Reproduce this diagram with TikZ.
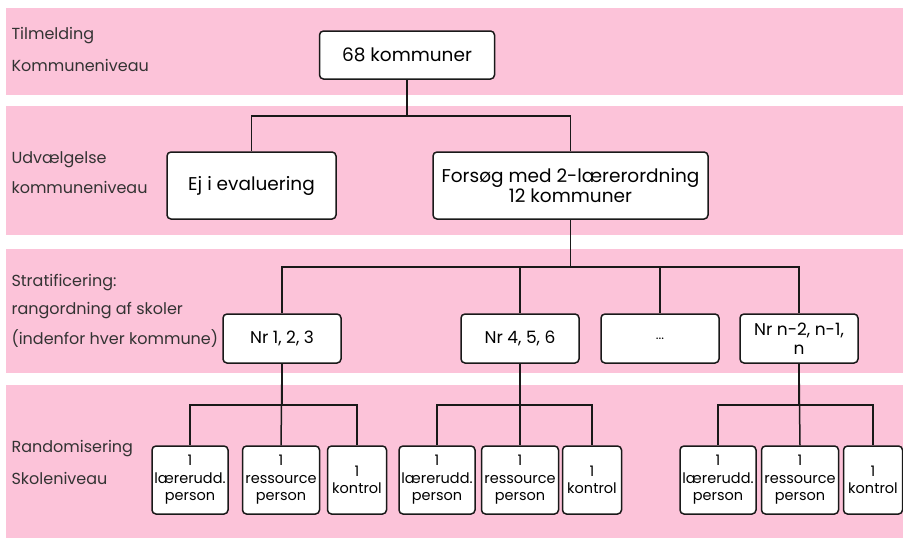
\documentclass[tikz,border=0pt]{standalone}
\usepackage{fontspec}
\setmainfont{Poppins}
\usepackage{tikz}
\usetikzlibrary{positioning}
\definecolor{bandpink}{RGB}{252,195,217}

\begin{document}
\begin{tikzpicture}[x=1pt,y=-1pt,
  box/.style={draw=black!90,line width=1.5pt,fill=white,rounded corners=4pt,
              align=center,inner sep=1pt,font=\fontsize{18.5}{20.5}\selectfont},
  midbox/.style={box,minimum width=118pt,minimum height=49pt,font=\fontsize{17}{19}\selectfont},
  smallbox/.style={box,minimum height=68pt,font=\fontsize{14.5}{17.5}\selectfont},
  link/.style={draw=black!90,line width=1.5pt},
  lvl/.style={anchor=west,font=\fontsize{16}{19}\selectfont,text=black!80}]
  \useasboundingbox (0,0) rectangle (903,538);

  % Baender
  \fill[bandpink] (6,8) rectangle (903,95);
  \fill[bandpink] (6,106) rectangle (903,235);
  \fill[bandpink] (6,249) rectangle (903,373);
  \fill[bandpink] (6,385) rectangle (903,538);

  % Niveauer
  \node[lvl] (t1) at (8,36) {Tilmelding};
  \node[lvl] (t2) at (8,65) {Kommuneniveau};
  \node[lvl] (u1) at (8,160) {Udvælgelse};
  \node[lvl] (u2) at (8,187) {kommuneniveau};
  \node[lvl] (s1) at (8,283) {Stratificering:};
  \node[lvl] (s2) at (8,311) {rangordning af skoler};
  \node[lvl] (s3) at (8,339) {(indenfor hver kommune)};
  \node[lvl] (r1) at (8,449) {Randomisering};
  \node[lvl] (r2) at (8,478) {Skoleniveau};

  % Kommuner
  \node[box,minimum width=175pt,minimum height=48pt] (k68) at (407,55) {68 kommuner};
  \node[box,minimum width=169pt,minimum height=67pt] (ej) at (251.5,185.5) {Ej i evaluering};
  \node[box,minimum width=275pt,minimum height=67pt] (forsog) at (570.5,185.5)
       {Forsøg med 2-lærerordning\\12 kommuner};
  \draw[link] (k68.south) -- ++(0,36) -| (ej.north);
  \draw[link] (k68.south) -- ++(0,36) -| (forsog.north);

  % Skoler
  \foreach \n/\x/\t in {n1/282/{Nr 1, 2, 3}, n4/520/{Nr 4, 5, 6},
                        nd/660/{\fontsize{13}{15}\selectfont ...}, nn/799/{Nr n-2, n-1,\\n}}{
    \node[midbox] (\n) at (\x,338.5) {\t};
    \draw[link] (forsog.south) -- ++(0,47) -| (\n.north);
  }

  % Randomisering
  \foreach \n/\p/\xa/\xb/\xc in {a/n1/190/281/357, b/n4/437/520/592, c/nn/718/800/873}{
    \node[smallbox,minimum width=76pt] (\n1) at (\xa,480) {1\\lærerudd.\\person};
    \node[smallbox,minimum width=77pt] (\n2) at (\xb,480) {1\\ressource\\person};
    \node[smallbox,minimum width=59pt] (\n3) at (\xc,480) {1\\kontrol};
    \draw[link] (\p.south) -- ++(0,41) -| (\n1.north);
    \draw[link] (\p.south) -- (\n2.north);
    \draw[link] (\p.south) -- ++(0,41) -| (\n3.north);
  }
\end{tikzpicture}
\end{document}
